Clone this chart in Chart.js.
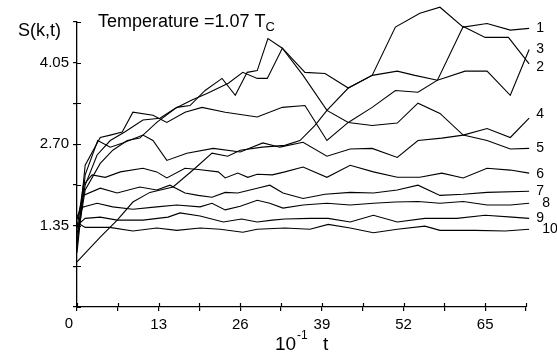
<!DOCTYPE html>
<html>
<head>
<meta charset="utf-8">
<script src="https://cdn.jsdelivr.net/npm/chart.js@4.4.1/dist/chart.umd.min.js"></script>
<style>
  html, body { margin: 0; padding: 0; background: #fff; }
  #wrap { width: 557px; height: 356px; position: relative; }
</style>
</head>
<body>
<div id="wrap"><canvas id="grafico"></canvas></div>
<script>
// valores: [t (10^-1), S(k,t)]
const curve1 = [[0,0.75],[3.7,1.16],[6.4,1.44],[8.9,1.74],[11.6,1.90],[15.3,1.99],[18.8,2.30],[21.5,2.55],[24.0,2.50],[26.0,2.60],[29.5,2.65],[33.1,2.68],[35.5,2.76],[37.9,3.01],[39.8,3.26],[43.2,3.63],[47.0,3.84],[50.7,4.64],[54.6,4.87],[57.8,4.97],[61.5,4.64],[65.3,4.70],[69.0,4.59],[72.0,4.62]];
const curve2 = [[0,1.00],[1.3,2.35],[3.7,2.81],[5.3,2.85],[7.2,2.90],[8.9,3.23],[12.1,3.18],[14.3,3.06],[17.2,3.23],[19.9,3.31],[23.6,3.23],[28.7,3.15],[32.7,3.31],[36.3,3.34],[39.8,2.76],[43.2,3.06],[47.0,3.31],[50.7,3.59],[54.3,3.56],[57.4,3.76],[61.5,4.65],[65.0,4.47],[68.7,4.47],[72.0,4.03]];
const curve3 = [[0,1.10],[1.3,1.94],[3.7,2.38],[5.7,2.60],[8.0,2.76],[10.0,2.80],[12.7,3.06],[15.9,3.31],[18.0,3.34],[20.4,3.59],[23.1,3.79],[25.2,3.51],[27.1,3.89],[28.7,3.92],[30.4,4.45],[32.7,4.29],[36.3,3.89],[39.5,3.87],[43.2,3.63],[47.0,3.84],[51.0,3.91],[53.8,3.84],[57.4,3.76],[61.8,3.91],[65.3,3.91],[69.0,3.51],[72.0,4.27]];
const curve4 = [[0,0.90],[1.3,2.19],[3.3,2.76],[5.3,2.65],[7.3,2.72],[10.5,2.85],[12.1,2.76],[14.3,2.43],[17.5,2.55],[21.7,2.63],[26.0,2.57],[29.6,2.72],[32.3,2.65],[36.0,2.73],[39.8,2.50],[43.5,2.62],[47.0,2.63],[51.0,2.48],[54.3,2.76],[58.1,2.80],[61.5,2.85],[65.3,2.96],[69.0,2.81],[72.0,3.13]];
const curve5 = [[0,1.20],[1.3,2.02],[3.2,2.52],[5.3,2.76],[7.6,2.90],[10.5,3.10],[13.2,3.13],[15.6,3.29],[18.3,3.43],[20.7,3.54],[24.1,3.71],[26.4,3.89],[28.7,3.79],[30.3,3.79],[32.7,4.29],[36.0,3.84],[39.8,3.26],[43.2,3.06],[47.0,3.01],[51.0,3.05],[54.3,3.38],[57.8,3.21],[61.5,2.85],[65.3,2.76],[69.0,2.62],[72.0,2.63]];
const curve6 = [[0,1.30],[1.0,2.02],[2.4,2.19],[4.5,2.15],[6.9,2.24],[10.5,2.30],[12.7,2.24],[14.3,2.14],[17.2,2.30],[19.3,2.28],[22.5,2.24],[23.6,2.14],[25.6,2.22],[27.2,2.15],[28.7,2.20],[31.1,2.19],[33.1,2.24],[36.0,2.32],[39.8,2.15],[43.5,2.35],[47.2,2.24],[51.0,2.15],[54.6,2.15],[58.1,2.22],[61.5,2.14],[65.3,2.30],[69.0,2.27],[72.0,2.22]];
const curve7 = [[0,1.45],[1.0,1.85],[3.7,1.97],[6.4,1.89],[10.0,1.99],[12.7,1.94],[14.8,2.02],[17.2,1.89],[19.3,1.85],[21.5,1.82],[23.6,1.90],[25.6,1.89],[28.7,1.97],[30.7,2.02],[32.8,1.89],[36.0,1.80],[39.5,1.87],[43.5,1.90],[47.2,1.89],[51.0,1.94],[54.3,2.02],[57.8,1.85],[61.5,1.87],[65.3,1.90],[72.0,1.92]];
const curve8 = [[0,1.50],[1.0,1.66],[3.2,1.72],[5.7,1.66],[8.9,1.62],[12.7,1.66],[15.9,1.69],[19.6,1.66],[21.5,1.72],[23.6,1.61],[26.0,1.67],[28.7,1.77],[30.7,1.72],[32.8,1.64],[36.0,1.69],[39.8,1.72],[43.5,1.69],[47.2,1.72],[50.7,1.74],[54.3,1.75],[57.8,1.72],[61.5,1.75],[65.3,1.69],[69.0,1.69],[72.0,1.72]];
const curve9 = [[0,1.35],[1.3,1.47],[3.7,1.49],[6.4,1.44],[10.5,1.44],[14.5,1.49],[16.4,1.56],[19.6,1.51],[23.3,1.41],[26.2,1.46],[28.7,1.41],[31.1,1.44],[33.1,1.46],[37.1,1.47],[40.0,1.47],[43.5,1.41],[47.2,1.52],[51.0,1.41],[55.4,1.47],[60.5,1.47],[65.0,1.52],[69.3,1.49],[72.0,1.47]];
const curve10 = [[0,1.40],[1.3,1.32],[5.2,1.32],[8.9,1.26],[12.7,1.31],[15.9,1.27],[19.6,1.31],[22.8,1.29],[26.4,1.24],[28.7,1.29],[33.1,1.31],[37.1,1.29],[40.0,1.37],[43.5,1.31],[47.2,1.23],[51.0,1.29],[55.4,1.34],[57.8,1.27],[63.4,1.27],[68.2,1.26],[72.0,1.29]];

const curves = [curve1, curve2, curve3, curve4, curve5, curve6, curve7, curve8, curve9, curve10];
const curveLabels = ['1', '2', '3', '4', '5', '6', '7', '8', '9', '10'];

const xTicks = [0, 6.5, 13, 19.5, 26, 32.5, 39, 45.5, 52, 58.5, 65, 71.5];
const xTickLabels = ['0', '', '13', '', '26', '', '39', '', '52', '', '65', ''];
const yTicks = [0, 0.675, 1.35, 2.025, 2.70, 3.375, 4.05, 4.725];
const yTickLabels = ['', '', '1.35', '', '2.70', '', '4.05', ''];

const FONTE = '"Liberation Sans", Arial, sans-serif';

// ajuste fino dos rótulos das curvas (px)
const labelShift = {
    '2': [0, 3], '4': [0, -4], '6': [0, 1], '8': [6, 0], '10': [6, 0]
};

const decorPlugin = {
    id: 'decor',
    afterDraw(chart) {
        const { ctx, chartArea, scales } = chart;
        const xs = scales.x, ys = scales.y;
        ctx.save();
        ctx.strokeStyle = '#000';
        ctx.fillStyle = '#000';
        ctx.lineWidth = 1.2;

        // parte interna dos tracinhos (cruzam o eixo)
        ctx.beginPath();
        yTicks.forEach(v => {
            const py = Math.round(ys.getPixelForValue(v)) + 0.5;
            ctx.moveTo(chartArea.left, py);
            ctx.lineTo(chartArea.left + 4, py);
        });
        xTicks.forEach(v => {
            const px = Math.round(xs.getPixelForValue(v)) + 0.5;
            ctx.moveTo(px, chartArea.bottom);
            ctx.lineTo(px, chartArea.bottom - 4);
        });
        ctx.stroke();

        // o "0" do eixo x fica um pouco à esquerda do eixo
        ctx.font = '15px ' + FONTE;
        ctx.textAlign = 'center';
        ctx.textBaseline = 'top';
        ctx.fillText(xTickLabels[0], xs.getPixelForValue(xTicks[0]) - 8, chartArea.bottom + 9);

        // título
        ctx.textBaseline = 'alphabetic';
        ctx.textAlign = 'left';
        ctx.font = '18px ' + FONTE;
        const titulo = 'Temperature =1.07 T';
        ctx.fillText(titulo, 98, 27);
        const w = ctx.measureText(titulo).width;
        ctx.font = '13px ' + FONTE;
        ctx.fillText('C', 98 + w, 31);

        // rótulo do eixo y
        ctx.font = '18px ' + FONTE;
        ctx.fillText('S(k,t)', 18, 36);

        // rótulo do eixo x
        ctx.font = '19px ' + FONTE;
        ctx.fillText('10', 275, 350);
        ctx.font = '12px ' + FONTE;
        ctx.fillText('-1', 297, 339);
        ctx.font = '19px ' + FONTE;
        ctx.fillText('t', 323, 350);

        // números das curvas
        ctx.font = '14px ' + FONTE;
        ctx.textBaseline = 'middle';
        curves.forEach((c, i) => {
            const last = c[c.length - 1];
            const lab = curveLabels[i];
            const sh = labelShift[lab] || [0, 0];
            const px = xs.getPixelForValue(last[0]) + 7 + sh[0];
            const py = ys.getPixelForValue(last[1]) + sh[1];
            ctx.fillText(lab, px, py);
        });
        ctx.restore();
    }
};

const ctx = document.getElementById('grafico').getContext('2d');
const grafico = new Chart(ctx, {
    type: 'line',
    data: {
        datasets: curves.map((c, i) => ({
            label: curveLabels[i],
            data: c.map(p => ({ x: p[0], y: p[1] })),
            borderColor: '#000',
            borderWidth: 1.1,
            pointRadius: 0,
            fill: false,
            tension: 0,
            clip: false
        }))
    },
    options: {
        responsive: true,
        maintainAspectRatio: false,
        animation: false,
        layout: { padding: { top: 22, right: 31, left: 0, bottom: 0 } },
        plugins: {
            legend: { display: false },
            tooltip: { enabled: false }
        },
        scales: {
            x: {
                type: 'linear',
                min: 0,
                max: 71.5,
                afterBuildTicks: s => { s.ticks = xTicks.map(v => ({ value: v })); },
                afterFit: s => { s.height = 49; },
                ticks: {
                    autoSkip: false,
                    maxRotation: 0,
                    padding: 5,
                    color: '#000',
                    font: { size: 15, family: FONTE },
                    // o primeiro rótulo é desenhado no plugin
                    callback: (v, i) => (i === 0 ? '' : xTickLabels[i])
                },
                grid: { drawOnChartArea: false, drawTicks: true, tickLength: 4, color: '#000', lineWidth: 1.2 },
                border: { display: true, color: '#000', width: 1.3 }
            },
            y: {
                min: 0,
                max: 4.725,
                afterBuildTicks: s => { s.ticks = yTicks.map(v => ({ value: v })); },
                afterFit: s => { s.width = 77; },
                ticks: {
                    autoSkip: false,
                    padding: 4,
                    color: '#000',
                    font: { size: 15, family: FONTE },
                    callback: (v, i) => yTickLabels[i]
                },
                grid: { drawOnChartArea: false, drawTicks: true, tickLength: 4, color: '#000', lineWidth: 1.2 },
                border: { display: true, color: '#000', width: 1.3 }
            }
        }
    },
    plugins: [decorPlugin]
});
</script>
</body>
</html>
